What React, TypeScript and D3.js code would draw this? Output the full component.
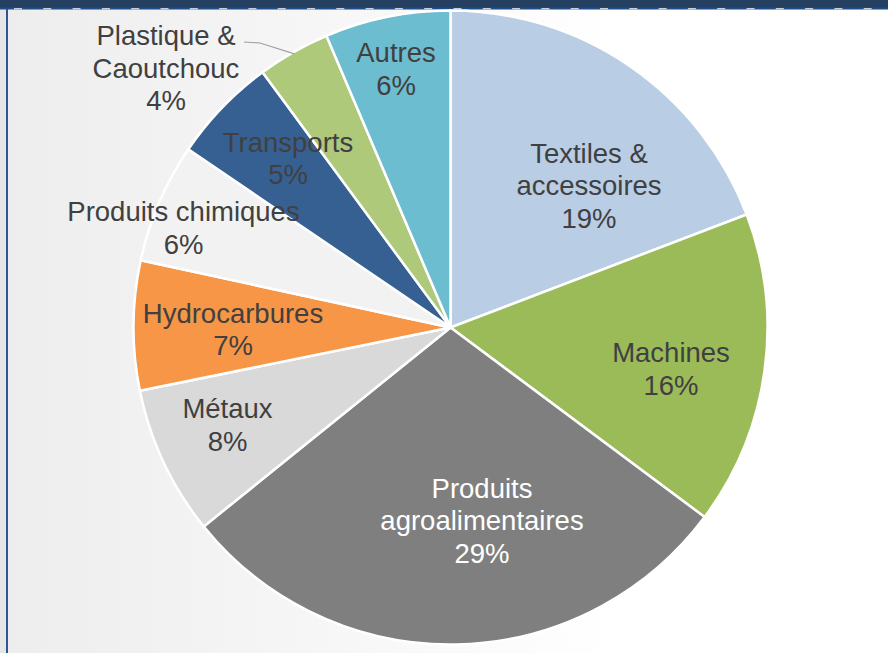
import React from "react";
import * as d3 from "d3";

const categories = [
  "Textiles & accessoires",
  "Machines",
  "Produits agroalimentaires",
  "Métaux",
  "Hydrocarbures",
  "Produits chimiques",
  "Transports",
  "Plastique & Caoutchouc",
  "Autres",
];
const values = [19.2, 16.0, 29.0, 7.6, 6.6, 6.1, 5.4, 3.7, 6.4];
const labelLines = [
  ["Textiles &", "accessoires"],
  ["Machines"],
  ["Produits", "agroalimentaires"],
  ["Métaux"],
  ["Hydrocarbures"],
  ["Produits chimiques"],
  ["Transports"],
  ["Plastique &", "Caoutchouc"],
  ["Autres"],
];

// styles / layout
const colors = ["#B9CDE5", "#9BBB59", "#7F7F7F", "#D9D9D9", "#F79646", "#F2F2F2", "#366092", "#AEC97A", "#6DBDD1"];
const textColors = ["#404040", "#404040", "#FFFFFF", "#404040", "#404040", "#404040", "#404040", "#404040", "#404040"];
// label block centre, offset from pie centre (px)
const labelOffsets: [number, number][] = [
  [138.5, -142.5],
  [220.5, 41],
  [31.5, 192.5],
  [-223, 97],
  [-217.5, 1.5],
  [-267, -100],
  [-162.5, -169.5],
  [-284.5, -260],
  [-54.5, -259],
];
const leaderIndex = 7;

const W = 888;
const H = 653;
const CX = 450.5;
const CY = 327.5;
const R = 317;
const FS = 27.5;
const LH = 32.5;

export default function App() {
  const total = d3.sum(values);
  const pie = d3
    .pie<number>()
    .sort(null)
    .value((d) => d)
    .startAngle(0)
    .endAngle(2 * Math.PI);
  const arcs = pie(values);
  const arc = d3.arc<d3.PieArcDatum<number>>().innerRadius(0).outerRadius(R);

  const dashes = d3.range(14, W, 29.3);

  // leader line for small slice
  const la = arcs[leaderIndex];
  const mid = (la.startAngle + la.endAngle) / 2;
  const endPt: [number, number] = [CX + (R - 2) * Math.sin(mid), CY - (R - 2) * Math.cos(mid)];
  const [lox, loy] = labelOffsets[leaderIndex];
  const firstBase = CY + loy - ((labelLines[leaderIndex].length) * LH) / 2 + 10;
  const startPt: [number, number] = [CX + lox + 78, firstBase - 3];
  const leader = d3.line()([startPt, [startPt[0] + 16, startPt[1] + 1], endPt]);

  return (
    <svg
      width={W}
      height={H}
      style={{ position: "absolute", left: 0, top: 0 }}
      fontFamily="'Liberation Sans', Arial, sans-serif"
    >
      <defs>
        <linearGradient id="bg" gradientUnits="userSpaceOnUse" x1={0} y1={0} x2={620} y2={0}>
          <stop offset="0" stopColor="#EDEDED" />
          <stop offset="0.5" stopColor="#F6F6F6" />
          <stop offset="1" stopColor="#FFFFFF" />
        </linearGradient>
      </defs>
      <rect x={0} y={0} width={W} height={H} fill="url(#bg)" />
      <rect x={0} y={0} width={6} height={H} fill="#E6E6E6" />
      <rect x={6} y={0} width={2} height={H} fill="#2F5597" />
      <rect x={0} y={0} width={W} height={8} fill="#243F60" />
      <rect x={0} y={7.5} width={W} height={2} fill="#1F4E8C" />
      {dashes.map((x, i) => (
        <rect key={i} x={x} y={8} width={8} height={1.5} fill="#C5CEDA" />
      ))}

      <g transform={`translate(${CX},${CY})`}>
        {arcs.map((a, i) => (
          <path key={categories[i]} d={arc(a) || ""} fill={colors[i]} stroke="#FFFFFF" strokeWidth={2.5} strokeLinejoin="round" />
        ))}
      </g>

      <path d={leader || ""} fill="none" stroke="#A0A0A0" strokeWidth={1.2} />

      {arcs.map((a, i) => {
        const lines = [...labelLines[i], `${Math.round((values[i] / total) * 100)}%`];
        const [ox, oy] = labelOffsets[i];
        const x = CX + ox;
        const b0 = CY + oy - ((lines.length - 1) * LH) / 2 + 10;
        return (
          <text key={i} x={x} y={b0} textAnchor="middle" fontSize={FS} fill={textColors[i]}>
            {lines.map((t, j) => (
              <tspan key={j} x={x} y={b0 + j * LH}>
                {t}
              </tspan>
            ))}
          </text>
        );
      })}
    </svg>
  );
}
